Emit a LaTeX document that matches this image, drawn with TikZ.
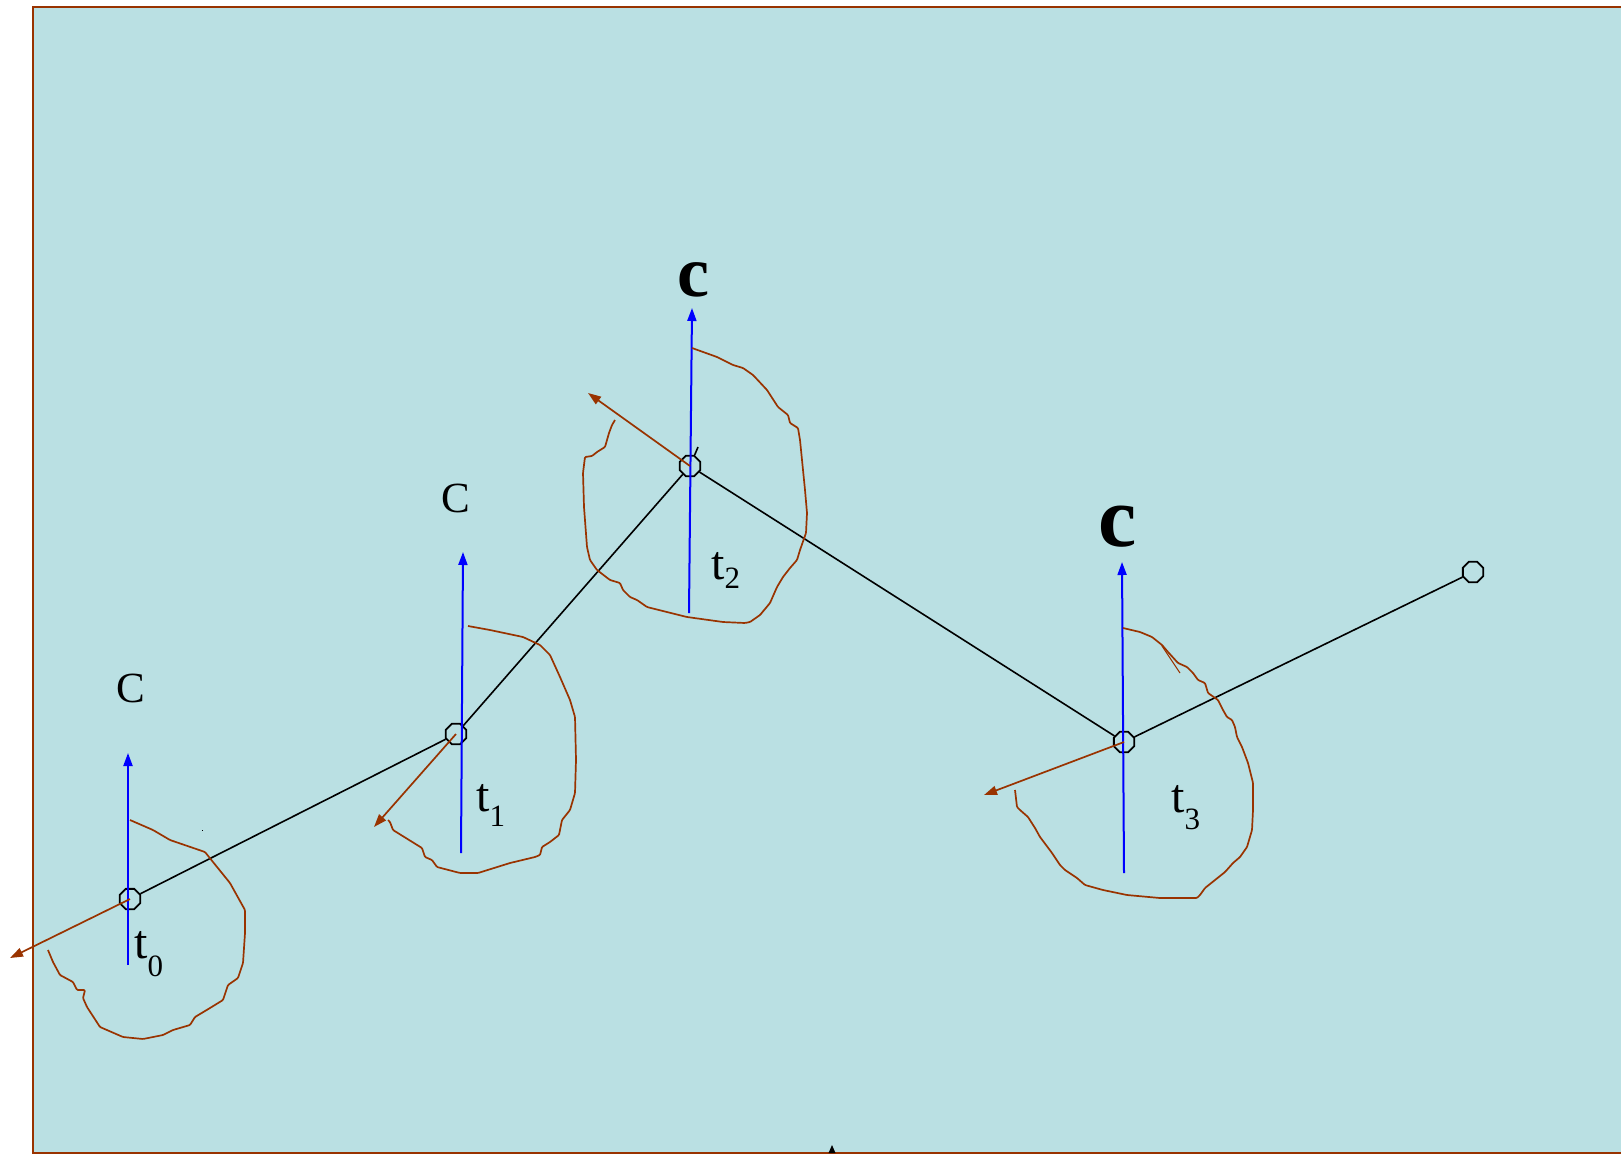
\documentclass[tikz,border=0pt]{standalone}
\usepackage{fontspec}
\setmainfont{Liberation Serif}
\usetikzlibrary{arrows.meta,shapes.geometric}
\definecolor{bg}{HTML}{BAE0E3}
\definecolor{rust}{HTML}{993300}
\tikzset{
  joint/.style={draw=black, line width=1.8pt, regular polygon, regular polygon sides=8, minimum size=22pt, inner sep=0pt},
  link/.style={black, line width=1.6pt},
  vel/.style={blue, line width=2pt, -{Triangle[length=13pt,width=9pt]}},
  spin/.style={rust, line width=1.7pt, -{Triangle[length=13pt,width=9pt]}},
  curl/.style={rust, line width=1.7pt, line join=round, rounded corners=1pt},
  clab/.style={inner sep=0pt, font=\fontsize{43}{43}\selectfont},
  cbig/.style={inner sep=0pt, font=\fontsize{#1}{#1}\selectfont\bfseries},
  tlab/.style={inner sep=0pt, anchor=base west, font=\fontsize{48}{48}\selectfont},
}
\newcommand{\tsub}[2]{t\raisebox{-#2pt}{\fontsize{31}{31}\selectfont #1}}
\begin{document}
\begin{tikzpicture}[x=1pt,y=-1pt]
\useasboundingbox (0,0) rectangle (1621,1154);
\fill[bg] (33,7) rectangle (1621,1153);
\draw[rust, line width=2pt] (1621,7) -- (33,7) -- (33,1153) -- (1621,1153);

% joints
\node[joint] (n0) at (130,899) {};
\node[joint] (n1) at (456,734) {};
\node[joint] (n2) at (690,466) {};
\node[joint] (n3) at (1124,742) {};
\node[joint] (n4) at (1473,572) {};
\coordinate (e2) at (698,447);

% links
\draw[link] (n0) -- (n1);
\draw[link] (n1) -- (n2);
\draw[link] (n2) -- (e2);
\draw[link] (n2) -- (n3);
\draw[link] (n3) -- (n4);

% blue axes
\coordinate (b0) at (128,965);  \coordinate (a0) at (128,753);
\coordinate (b1) at (461,853);  \coordinate (a1) at (463,552);
\coordinate (b2) at (689,613);  \coordinate (a2) at (692,308);
\coordinate (b3) at (1124,873); \coordinate (a3) at (1122,562);
\draw[vel] (b0) -- (a0);
\draw[vel] (b1) -- (a1);
\draw[vel] (b2) -- (a2);
\draw[vel] (b3) -- (a3);

% brown arrows
\coordinate (r0) at (10,958);
\coordinate (r1) at (374,827);
\coordinate (r2) at (588,393);
\coordinate (r3) at (984,795);
\draw[spin] (n0.center) -- (r0);
\draw[spin] (n1.center) -- (r1);
\draw[spin] (n2.center) -- (r2);
\draw[spin] (n3.center) -- (r3);

% curls
\draw[curl] (130,820) -- (153,830) -- (170,840) -- (205,852) -- (213,862) -- (230,883) -- (245,910) -- (245,933) -- (243,963) -- (238,978) -- (228,985) -- (223,1000) -- (210,1008) -- (195,1017) -- (190,1025) -- (173,1030) -- (163,1035) -- (143,1039) -- (123,1037) -- (100,1027) -- (87,1007) -- (83,998) -- (85,990) -- (77,990) -- (73,982) -- (60,975) -- (53,962) -- (48,950);

\draw[curl] (468,626) -- (490,630) -- (523,637) -- (540,645) -- (550,655) -- (560,677) -- (570,700) -- (575,717) -- (576,760) -- (575,793) -- (570,810) -- (562,820) -- (559,835) -- (550,842) -- (542,847) -- (540,855) -- (535,857) -- (510,863) -- (478,873) -- (460,873) -- (437,867) -- (432,860) -- (425,857) -- (422,848) -- (393,830) -- (390,822) -- (388,820);

\draw[curl] (692,348) -- (717,357) -- (733,365) -- (743,368) -- (753,375) -- (767,390) -- (778,407) -- (788,415) -- (790,423) -- (798,428) -- (800,440) -- (805,490) -- (807,513) -- (806,533) -- (800,550) -- (797,560) -- (790,568) -- (783,577) -- (777,587) -- (770,603) -- (760,615) -- (750,622) -- (745,623) -- (723,622) -- (687,617) -- (647,607) -- (637,600) -- (630,597) -- (623,590) -- (620,583) -- (610,580) -- (597,570) -- (590,560) -- (587,547) -- (584,507) -- (583,473) -- (585,457) -- (592,456) -- (597,452) -- (605,447) -- (607,440) -- (609,433) -- (612,425) -- (615,420);

\draw[curl] (1123,628) -- (1140,632) -- (1152,637) -- (1162,645) -- (1168,652) -- (1178,663) -- (1187,667) -- (1193,673) -- (1198,680) -- (1205,683) -- (1208,693) -- (1218,700) -- (1223,710) -- (1227,717) -- (1232,720) -- (1235,727) -- (1237,737) -- (1242,747) -- (1248,763) -- (1253,783) -- (1253,810) -- (1252,830) -- (1247,847) -- (1240,857) -- (1233,863) -- (1225,872) -- (1215,880) -- (1205,888) -- (1200,895) -- (1197,898) -- (1160,898) -- (1127,895) -- (1103,890) -- (1085,885) -- (1077,878) -- (1065,870) -- (1060,865) -- (1052,853) -- (1040,837) -- (1035,828) -- (1028,817) -- (1020,810) -- (1017,807) -- (1015,790);
\draw[rust, line width=1pt] (1162,646) -- (1180,673);

% labels
\node[clab] (c0) at (131,688) {C};
\node[clab] (c1) at (456,498) {C};
\node[cbig=72] (c2) at (693,280) {c};
\node[cbig=86] (c3) at (1118,527) {c};

\node[tlab] (t0) at (134,958) {\tsub{0}{18}};
\node[tlab] (t1) at (476,811) {\tsub{1}{15}};
\node[tlab] (t2) at (711,579) {\tsub{2}{9}};
\node[tlab] (t3) at (1171,812) {\tsub{3}{17}};

% small marks
\fill (201.5,829.5) rectangle (203,831);
\fill (828.5,1153) -- (832,1145) -- (835.5,1153) -- cycle;
\end{tikzpicture}
\end{document}
